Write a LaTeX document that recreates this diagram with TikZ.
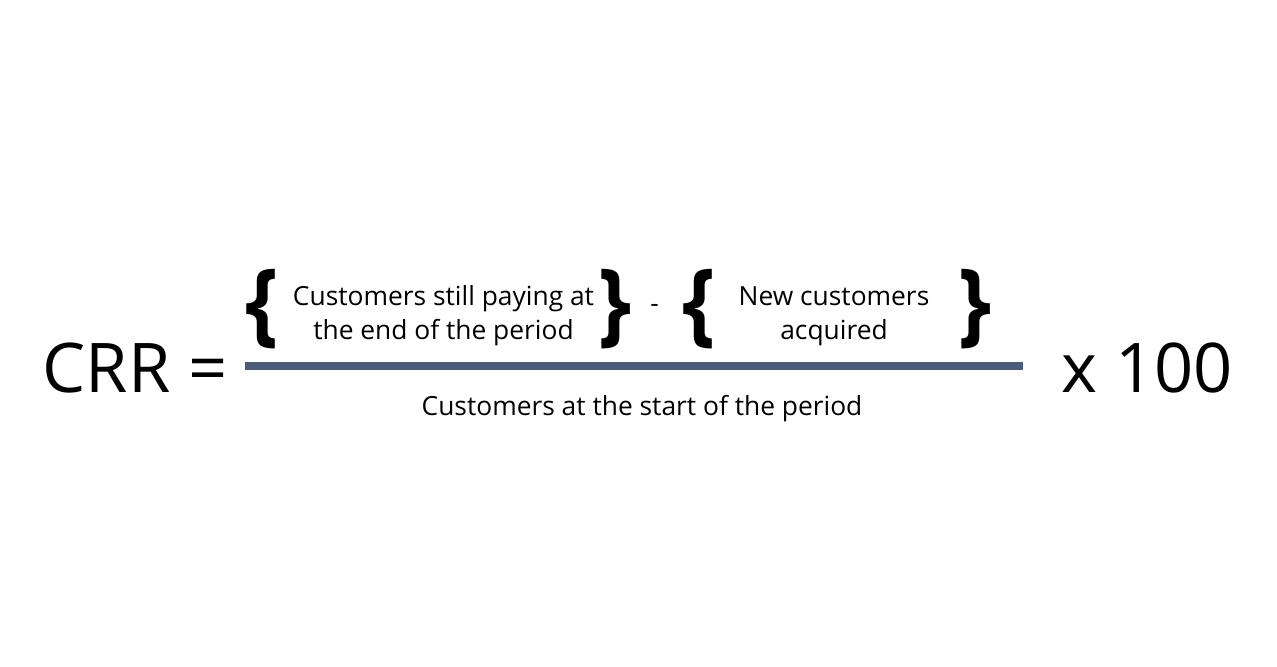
\documentclass[tikz,border=0pt]{standalone}
\usepackage{fontspec}
\setmainfont{Open Sans}
\usetikzlibrary{positioning}
\definecolor{barblue}{HTML}{4B5B7A}
\tikzset{
  big/.style={font=\fontsize{19.5}{23}\selectfont,inner sep=0pt,anchor=base},
  small/.style={font=\fontsize{7.5}{9.5}\selectfont,align=center,inner sep=0pt,anchor=base},
  brace/.style={font=\bfseries\fontsize{26}{26}\selectfont,inner sep=0pt,xscale=0.92},
  bar/.style={line width=2pt,draw=barblue}
}
\begin{document}
\begin{tikzpicture}
  \useasboundingbox[fill=white] (0,0) rectangle (12.77,6.66);

  \node [big] (crr) at (1.35,2.74) {CRR =};
  \node [big] (times) at (11.47,2.74) {x 100};

  \coordinate (barl) at (2.45,3.00);
  \coordinate (barr) at (10.23,3.00);
  \draw [bar] (barl) -- (barr);

  % numerator blocks, base = last line
  \node [small] (still) at (4.435,3.27) {Customers still paying at\\the end of the period};
  \node [small] (new) at (8.34,3.27) {New customers\\acquired};
  \node [small] (start) at (6.42,2.51) {Customers at the start of the period};

  \node [brace] (lb1) at (2.62,3.57) {\{};
  \node [brace] (rb1) at (6.15,3.57) {\}};
  \node [small] (minus) at (6.545,3.54) {-};
  \node [brace] (lb2) at (6.99,3.57) {\{};
  \node [brace] (rb2) at (9.75,3.57) {\}};
\end{tikzpicture}
\end{document}
